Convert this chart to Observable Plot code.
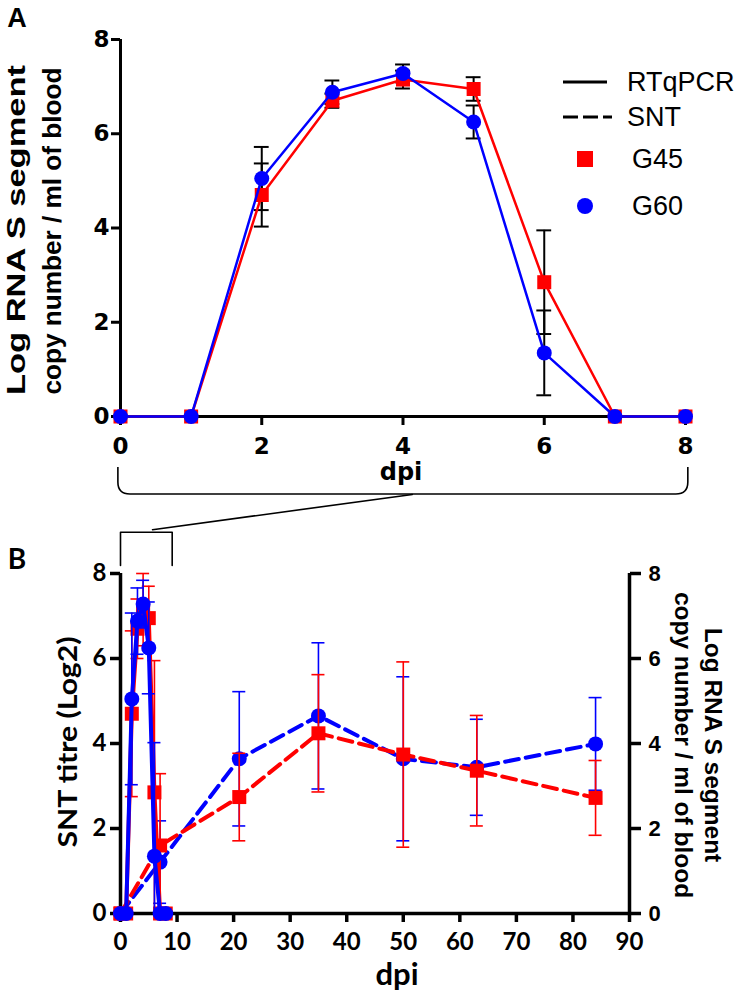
<!DOCTYPE html>
<html><head><meta charset="utf-8">
<script src="https://cdn.jsdelivr.net/npm/d3@7"></script>
<script src="https://cdn.jsdelivr.net/npm/@observablehq/plot@0.6"></script>
<style>
html,body{margin:0;padding:0;background:#fff;}
#wrap{position:relative;width:734px;height:996px;overflow:hidden;background:#fff;}
#wrap svg{position:absolute;left:0;}
</style></head><body><div id="wrap"></div>
<script>
// ---------- data ----------
const daysRt = [0, 1, 2, 3, 4, 5, 6, 7, 8];
const g45Rt = [0, 0, 4.7, 6.7, 7.15, 6.95, 2.85, 0, 0];
const g60Rt = [0, 0, 5.05, 6.88, 7.28, 6.25, 1.35, 0, 0];
const g45RtSem = [0, 0, 0.67, 0.15, 0.19, 0.25, 1.1, 0, 0];
const g60RtSem = [0, 0, 0.67, 0.25, 0.19, 0.35, 0.9, 0, 0];
const g45RtSd = [0, 0, 1.95, 0.7, 0.85, 0.75, 3.1, 0, 0];
const g60RtSd = [0, 0, 2.02, 0.78, 0.56, 1.08, 2.67, 0, 0];
const daysSnt = [0, 7, 21, 35, 50, 63, 84];
const g45Snt = [0, 1.6, 2.74, 4.24, 3.74, 3.36, 2.72];
const g60Snt = [0, 1.21, 3.64, 4.65, 3.64, 3.44, 3.99];
const g45SntSd = [0, 1.69, 1.03, 1.38, 2.18, 1.3, 0.88];
const g60SntSd = [0, 0.97, 1.58, 1.72, 1.93, 1.13, 1.09];
const ticksA = [0, 2, 4, 6, 8];
const ticksBx = [0, 10, 20, 30, 40, 50, 60, 70, 80, 90];
const ticksBy = [0, 2, 4, 6, 8];
// annotation geometry (data units of each panel)
const bracketAX = [-0.03, 8.04];
const bracketAY = [-1.08, -1.655];
const zoomBracketX = [0, 0, 9.14, 9.14];
const zoomBracketY = [8.19, 8.97, 8.97, 8.19];
const zoomLinkX = [5.66, 51.6];
const zoomLinkY = [9.03, 9.86];

const RED = "#ff0000", BLUE = "#0000ff";

const rows = (days, vals, errs) => days.map((d, i) => ({
  day: d, v: vals[i], e: errs[i],
  lo: Math.max(0, vals[i] - errs[i]), hi: vals[i] + errs[i]
}));

function errBars(data, color, halfCap, sw) {
  const d = data.filter(r => r.e > 0);
  return [
    Plot.ruleX(d, {x: "day", y1: "lo", y2: "hi", stroke: color, strokeWidth: sw}),
    Plot.ruleY(d, {y: "hi", x1: r => r.day - halfCap, x2: r => r.day + halfCap, stroke: color, strokeWidth: sw}),
    Plot.ruleY(d.filter(r => r.v - r.e > 0), {y: "lo", x1: r => r.day - halfCap, x2: r => r.day + halfCap, stroke: color, strokeWidth: sw})
  ];
}

function label(str, x, y, o = {}) {
  return () => {
    const t = d3.create("svg:text")
      .attr("transform", `translate(${x},${y}) rotate(${o.rotate || 0})`)
      .attr("text-anchor", o.anchor || "middle")
      .attr("dominant-baseline", o.baseline || "central")
      .attr("font-family", o.family || "Liberation Sans")
      .attr("font-size", o.size || 24)
      .attr("font-weight", o.weight || "bold")
      .attr("fill", "black")
      .text(str);
    if (o.length) t.attr("textLength", o.length).attr("lengthAdjust", "spacingAndGlyphs");
    return t.node();
  };
}

// ---------- Panel A ----------
const g45A = rows(daysRt, g45Rt, g45RtSem);
const g60A = rows(daysRt, g60Rt, g60RtSem);

const legendA = () => {
  const g = d3.create("svg:g");
  const txt = (s, x, y) => g.append("text").attr("x", x).attr("y", y)
    .attr("text-anchor", "start").attr("dominant-baseline", "central")
    .attr("font-family", "Liberation Sans").attr("font-size", 27).attr("font-weight", "normal")
    .attr("fill", "black").text(s);
  g.append("line").attr("x1", 563).attr("x2", 607).attr("y1", 82).attr("y2", 82).attr("stroke", "black").attr("stroke-width", 3);
  txt("RTqPCR", 627, 82);
  g.append("line").attr("x1", 563).attr("x2", 612).attr("y1", 117).attr("y2", 117).attr("stroke", "black").attr("stroke-width", 3).attr("stroke-dasharray", "15,5");
  txt("SNT", 627, 117);
  g.append("rect").attr("x", 577).attr("y", 151).attr("width", 16).attr("height", 16).attr("fill", RED);
  txt("G45", 632, 159);
  g.append("circle").attr("cx", 585).attr("cy", 206).attr("r", 8).attr("fill", BLUE);
  txt("G60", 632, 206);
  return g.node();
};

const bracketA = (index, scales) => {
  const x0 = scales.x(bracketAX[0]), x1 = scales.x(bracketAX[1]);
  const yT = scales.y(bracketAY[0]), yB = scales.y(bracketAY[1]);
  const r = 12;
  const p = `M${x0},${yT} L${x0},${yB - r} Q${x0},${yB} ${x0 + r},${yB} L${x1 - r},${yB} Q${x1},${yB} ${x1},${yB - r} L${x1},${yT}`;
  return d3.create("svg:path").attr("d", p).attr("fill", "none").attr("stroke", "black").attr("stroke-width", 1.6).node();
};

const plotA = Plot.plot({
  width: 734, height: 500,
  marginLeft: 120, marginRight: 49, marginTop: 39, marginBottom: 84,
  style: {background: "white", overflow: "visible"},
  x: {domain: [0, 8]},
  y: {domain: [0, 8]},
  marks: [
    Plot.ruleX([0], {stroke: "black", strokeWidth: 3}),
    Plot.ruleY([0], {stroke: "black", strokeWidth: 3}),
    Plot.axisX(ticksA, {tickSize: 9, tickPadding: 12, strokeWidth: 3, fontSize: 23, fontWeight: "bold", fontFamily: "DejaVu Sans", label: null}),
    Plot.axisY(ticksA, {tickSize: 9, tickPadding: 2, strokeWidth: 3, fontSize: 23, fontWeight: "bold", fontFamily: "DejaVu Sans", label: null}),
    ...errBars(g45A, "black", 0.105, 2),
    ...errBars(g60A, "black", 0.105, 2),
    Plot.line(g45A, {x: "day", y: "v", stroke: RED, strokeWidth: 2.5}),
    Plot.dot(g45A, {x: "day", y: "v", symbol: "square", r: 7.9, fill: RED}),
    Plot.line(g60A, {x: "day", y: "v", stroke: BLUE, strokeWidth: 2.5}),
    Plot.dot(g60A, {x: "day", y: "v", r: 7.5, fill: BLUE}),
    legendA,
    bracketA,
    label("dpi", 401, 472, {family: "DejaVu Sans", size: 24}),
    label("Log RNA S segment", 16, 230, {rotate: -90, size: 26, length: 330}),
    label("copy number / ml of blood", 52, 231, {rotate: -90, size: 26, length: 327}),
    label("A", 17, 18, {size: 27})
  ]
});
plotA.style.top = "0px";

// ---------- Panel B ----------
const g45SntB = rows(daysSnt, g45Snt, g45SntSd);
const g60SntB = rows(daysSnt, g60Snt, g60SntSd);
const g45RtB = rows(daysRt, g45Rt, g45RtSd);
const g60RtB = rows(daysRt, g60Rt, g60RtSd);
const zoomBracket = zoomBracketX.map((x, i) => ({x, y: zoomBracketY[i]}));
const zoomLink = zoomLinkX.map((x, i) => ({x, y: zoomLinkY[i]}));

const plotB = Plot.plot({
  width: 734, height: 526,
  marginLeft: 120, marginRight: 105, marginTop: 103, marginBottom: 83,
  style: {background: "transparent", overflow: "visible"},
  x: {domain: [0, 90]},
  y: {domain: [0, 8]},
  marks: [
    Plot.line(zoomBracket, {x: "x", y: "y", stroke: "black", strokeWidth: 1.6}),
    Plot.line(zoomLink, {x: "x", y: "y", stroke: "black", strokeWidth: 1.6}),
    Plot.ruleX([0, 90], {stroke: "black", strokeWidth: 3.5}),
    Plot.ruleY([0], {stroke: "black", strokeWidth: 3.5}),
    Plot.axisX(ticksBx, {tickSize: 9, tickPadding: 10, strokeWidth: 3.5, fontSize: 24, fontWeight: "bold", fontFamily: "Lato", label: null}),
    Plot.axisY(ticksBy, {anchor: "left", tickSize: 10, tickPadding: 4, strokeWidth: 3.5, fontSize: 24, fontWeight: "bold", fontFamily: "Lato", label: null}),
    Plot.axisY(ticksBy, {anchor: "right", tickSize: 11, tickPadding: 8, strokeWidth: 3.5, fontSize: 22, fontWeight: "bold", fontFamily: "Liberation Sans", label: null}),
    ...errBars(g60SntB, BLUE, 1.15, 1.6),
    Plot.line(g60SntB, {x: "day", y: "v", stroke: BLUE, strokeWidth: 4, strokeDasharray: "14,7"}),
    Plot.dot(g60SntB, {x: "day", y: "v", r: 7.5, fill: BLUE}),
    ...errBars(g45SntB, RED, 1.15, 1.6),
    Plot.line(g45SntB, {x: "day", y: "v", stroke: RED, strokeWidth: 4, strokeDasharray: "14,7"}),
    Plot.dot(g45SntB, {x: "day", y: "v", symbol: "square", r: 7.9, fill: RED}),
    ...errBars(g45RtB, RED, 1.15, 1.6),
    Plot.line(g45RtB, {x: "day", y: "v", stroke: RED, strokeWidth: 4}),
    Plot.dot(g45RtB, {x: "day", y: "v", symbol: "square", r: 7.9, fill: RED}),
    ...errBars(g60RtB, BLUE, 1.15, 1.6),
    Plot.line(g60RtB, {x: "day", y: "v", stroke: BLUE, strokeWidth: 4}),
    Plot.dot(g60RtB, {x: "day", y: "v", r: 7.5, fill: BLUE}),
    label("dpi", 397, 503, {family: "Lato", size: 31}),
    label("SNT titre (Log2)", 67, 272, {rotate: -90, family: "Lato", size: 26, length: 211}),
    label("Log RNA S segment", 713, 275, {rotate: 90, size: 24.5}),
    label("copy number / ml of blood", 683, 275, {rotate: 90, size: 24.5}),
    label("B", 17, 88, {family: "Lato", size: 28})
  ]
});
plotB.style.top = "470px";

const wrap = document.getElementById("wrap");
wrap.appendChild(plotA);
wrap.appendChild(plotB);
</script></body></html>
